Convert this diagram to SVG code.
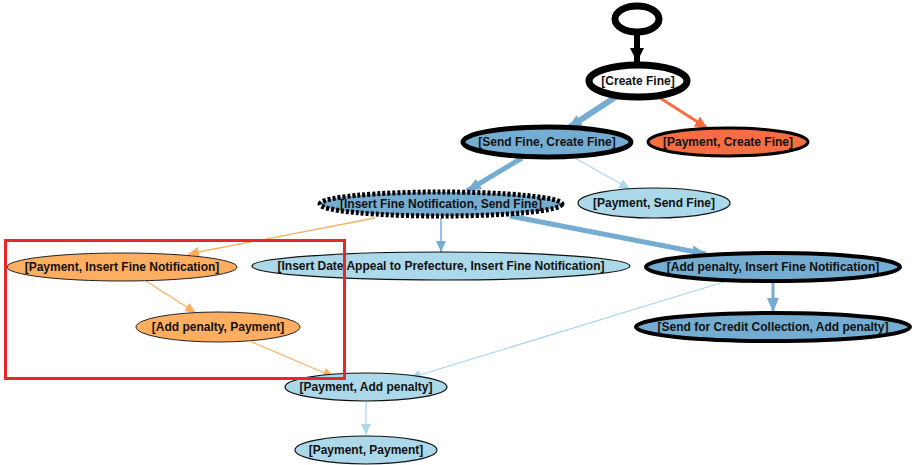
<svg xmlns="http://www.w3.org/2000/svg" width="916" height="465" viewBox="0 0 916 465">
<style>
text{font-family:"Liberation Sans",Arial,sans-serif;font-weight:bold;font-size:12px;fill:#111;text-anchor:middle}
.lb{fill:#abd9e9;stroke:#111;stroke-width:1.2}
.mb{fill:#74add1;stroke:#000}
.or{fill:#fdae61;stroke:#222;stroke-width:1}
.rd{fill:#f46d43;stroke:#000;stroke-width:3}
</style>
<defs>
<marker id="aK" markerUnits="userSpaceOnUse" markerWidth="16" markerHeight="14" refX="14" refY="7" orient="auto"><path d="M0,0 L14,7 L0,14 z" fill="#000"/></marker>
<marker id="aB" markerUnits="userSpaceOnUse" markerWidth="16" markerHeight="14" refX="14" refY="7" orient="auto"><path d="M0,1 L14,7 L0,13 z" fill="#74add1"/></marker>
<marker id="aBs" markerUnits="userSpaceOnUse" markerWidth="12" markerHeight="10" refX="11" refY="5" orient="auto"><path d="M0,0 L11,5 L0,10 z" fill="#74add1"/></marker>
<marker id="aL" markerUnits="userSpaceOnUse" markerWidth="12" markerHeight="10" refX="11" refY="5" orient="auto"><path d="M0,0 L11,5 L0,10 z" fill="#abd9e9"/></marker>
<marker id="aO" markerUnits="userSpaceOnUse" markerWidth="12" markerHeight="10" refX="11" refY="5" orient="auto"><path d="M0,0 L11,5 L0,10 z" fill="#fdae61"/></marker>
<marker id="aR" markerUnits="userSpaceOnUse" markerWidth="14" markerHeight="12" refX="12" refY="6" orient="auto"><path d="M0,0 L12,6 L0,12 z" fill="#f46d43"/></marker>
</defs>
<g id="connectors" fill="none">
<line x1="637" y1="35" x2="637" y2="62" stroke="#000" stroke-width="6" marker-end="url(#aK)"/>
<line x1="617" y1="96" x2="568" y2="128" stroke="#74add1" stroke-width="6" marker-end="url(#aB)"/>
<line x1="657" y1="96" x2="707" y2="128" stroke="#f46d43" stroke-width="3" marker-end="url(#aR)"/>
<line x1="522" y1="158" x2="467" y2="191" stroke="#74add1" stroke-width="5" marker-end="url(#aB)"/>
<line x1="573" y1="157" x2="630" y2="189" stroke="#abd9e9" stroke-width="1.3" marker-end="url(#aL)"/>
<line x1="375" y1="218" x2="188" y2="254" stroke="#fdae61" stroke-width="1.3" marker-end="url(#aO)"/>
<line x1="441" y1="218" x2="441" y2="252" stroke="#74add1" stroke-width="1.5" marker-end="url(#aBs)"/>
<line x1="510" y1="216" x2="706" y2="254" stroke="#74add1" stroke-width="5" marker-end="url(#aB)"/>
<line x1="146" y1="281" x2="196" y2="313" stroke="#fdae61" stroke-width="1.3" marker-end="url(#aO)"/>
<line x1="252" y1="342" x2="334" y2="377" stroke="#fdae61" stroke-width="1.3" marker-end="url(#aO)"/>
<line x1="727" y1="281" x2="410" y2="378" stroke="#abd9e9" stroke-width="1.3" marker-end="url(#aL)"/>
<line x1="773" y1="282" x2="773" y2="312" stroke="#74add1" stroke-width="3" marker-end="url(#aB)"/>
<line x1="366" y1="402" x2="366" y2="435" stroke="#abd9e9" stroke-width="1.3" marker-end="url(#aL)"/>
</g>
<g id="start"><ellipse cx="637" cy="19" rx="22" ry="13" fill="#fff" stroke="#000" stroke-width="7"/></g>
<g id="n-create-fine"><ellipse cx="638" cy="81" rx="49" ry="16" fill="#fff" stroke="#000" stroke-width="7"/><text x="638" y="85">[Create Fine]</text></g>
<g id="n-send-fine"><ellipse cx="547" cy="142" rx="84" ry="15" class="mb" stroke-width="5"/><text x="547" y="146">[Send Fine, Create Fine]</text></g>
<g id="n-payment-create"><ellipse cx="728" cy="142" rx="80" ry="14" class="rd"/><text x="728" y="146">[Payment, Create Fine]</text></g>
<g id="n-insert-fine"><ellipse cx="441" cy="204" rx="121" ry="12" class="mb" stroke-width="5" stroke-dasharray="3,2"/><text x="441" y="208">[Insert Fine Notification, Send Fine]</text></g>
<g id="n-payment-send"><ellipse cx="654" cy="203" rx="76" ry="15" class="lb"/><text x="654" y="207">[Payment, Send Fine]</text></g>
<g id="n-payment-insert"><ellipse cx="122" cy="267" rx="115" ry="14" class="or"/><text x="122" y="271">[Payment, Insert Fine Notification]</text></g>
<g id="n-insert-date"><ellipse cx="441" cy="266" rx="189" ry="14" class="lb"/><text x="441" y="270">[Insert Date Appeal to Prefecture, Insert Fine Notification]</text></g>
<g id="n-add-penalty-insert"><ellipse cx="773" cy="267" rx="127" ry="14" class="mb" stroke-width="4"/><text x="773" y="271">[Add penalty, Insert Fine Notification]</text></g>
<g id="n-send-credit"><ellipse cx="773" cy="327" rx="137" ry="14" class="mb" stroke-width="4"/><text x="773" y="331">[Send for Credit Collection, Add penalty]</text></g>
<g id="n-add-penalty-payment"><ellipse cx="218" cy="327" rx="82" ry="15" class="or"/><text x="218" y="331">[Add penalty, Payment]</text></g>
<g id="n-payment-add-penalty"><ellipse cx="366" cy="387" rx="81" ry="14" class="lb" stroke-width="2"/><text x="366" y="391">[Payment, Add penalty]</text></g>
<g id="n-payment-payment"><ellipse cx="366" cy="450" rx="71" ry="14" class="lb"/><text x="366" y="454">[Payment, Payment]</text></g>
<rect x="5.5" y="240.5" width="339" height="138" fill="none" stroke="#e8262b" stroke-width="3"/>
</svg>
